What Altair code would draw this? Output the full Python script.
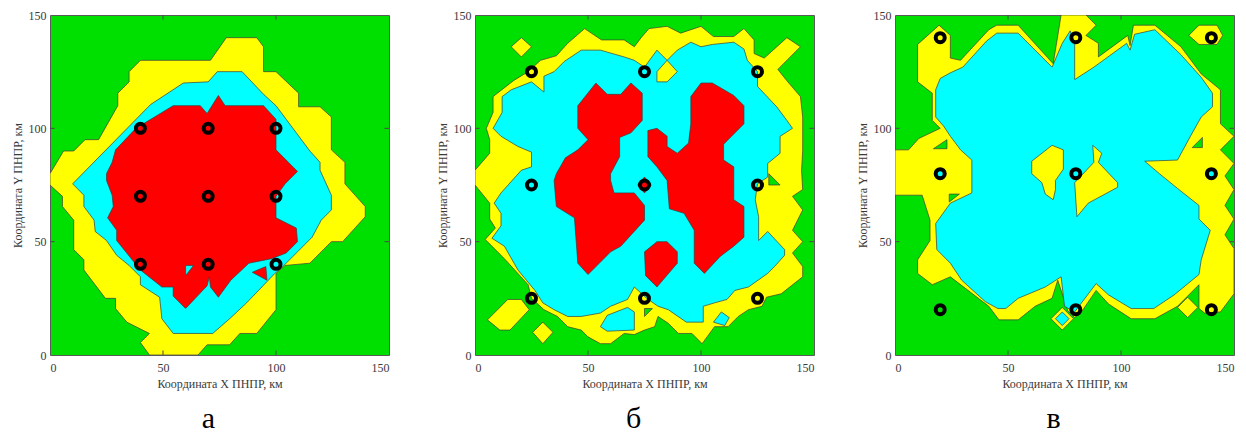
import altair as alt
import pandas as pd

GREEN = "#00e000"
YELLOW = "#ffff00"
CYAN = "#00ffff"
RED = "#ff0000"
EDGE = "#3c3c3c"
FONT = "Liberation Serif"

AXIS_TICKS = [0, 50, 100, 150]
INNER_TICKS = [50, 100]
X_TITLE = "Координата X ПНПР, км"
Y_TITLE = "Координата Y ПНПР, км"
PANEL_LETTERS = ["а", "б", "в"]

# sensor grid coordinates (km) of each panel
A_SENSOR_POS = [40, 70, 100]
B_SENSOR_POS = [25, 75, 125]
C_SENSOR_POS = [20, 80, 140]

# ---------- panel а : contour regions (km) ----------
A_YELLOW = [(71,130),(78,140),(91.5,140),(94.5,136),(94.5,125),(100,125),(110,115.5),(110,109.5),
            (119.5,109.5),(124.5,105),(124.5,90.5),(130.5,85),(130.5,75.5),(139.5,65.5),(139.5,61),
            (129.5,50),(124.5,50),(115,40.5),(104,39.5),(100,36),(100,20),(91.5,9.5),(84,9.5),
            (79.5,4.5),(69.5,4.5),(65.5,0),(44,0),(40,5.5),(44,9.5),(34,14.5),(29,20.5),(29,25),
            (24.5,25),(15,37.5),(15,42),(10.5,46.5),(10.5,59.5),(5.5,65.5),(5.5,70),(0,75),(0,80),
            (6,90),(10.5,90),(15.5,95),(21.5,95),(30,110),(30,115.5),(35,120.5),(35,125),(40,130)]
A_CYAN = [(70,120.5),(74,125),(85,125),(94.5,115),(100,110),(104.5,104),(115,90),(119.5,85),
          (119.5,81.5),(124.5,70.5),(124.5,64),(120,59.5),(116,52),(109,45),(103,39),(99.5,36),
          (87,23),(79.5,16),(72,9.5),(54.5,9.5),(49.5,16),(48.5,25.5),(40,31),(40,34.5),(35,39.5),
          (29.5,44),(25,50.5),(20,54.5),(19.5,59.5),(15,65.5),(15,70.5),(10,75.5),(44.5,110.5),(59,120)]
A_RED = [(54.5,110),(66.5,110),(69.5,106.5),(74.5,114.5),(77.5,110),(94.5,110),(100,104),(100,90.5),
         (109.5,81),(104,75.5),(100,70),(100,60.5),(109,56),(109.5,50),(104.5,45),(98,42.5),(88,40.5),
         (80,33),(74.5,25.5),(71,30),(70.5,34.5),(69.5,30.5),(60,20.5),(54.5,26),(54.5,30),(49.5,30),
         (40,37.5),(29.5,50.5),(29.5,55),(25.5,60.5),(28,65.5),(27.5,70.5),(25,77),(25,80),(27.5,85),
         (29,90.5),(38,100)]
A_CYAN_HOLE = [(60,35),(60,39.5),(63.5,39.5)]
A_RED_ISLAND = [(89.5,36.5),(95.5,39),(96,33)]

# ---------- panel б ----------
B_YELLOW = [(0,81.5),(6.5,89),(6.5,95),(5,100),(8,107),(8,114),(17,121),(23.5,125),(29,130),(36,132),
            (41,137.5),(48.5,144),(53,141),(56,139),(66,139),(70.5,136),(73.5,140),(77,144),(85,145),
            (91,142),(100,145),(105.5,140.5),(114.5,140.5),(119,144),(123.5,139),(123.5,133),(128,131),
            (138,140),(144,136),(134,126),(138,121),(144,114),(145,105),(145,90),(144.5,81.5),(145,73),
            (140.5,70),(145,64),(140.5,55),(145,50),(140.5,45),(145,39),(145,34.5),(135.5,27),(129,25.5),
            (127,21.5),(121,20),(116.5,17),(112,12.5),(106,12.5),(100.5,5),(96,9.5),(90,9.5),(85.5,14),
            (81,17),(79.5,12.5),(75,11),(70.5,9),(66,9.5),(60,5),(55.5,5),(50,8),(47,11),(41,12.5),
            (36.5,17),(30.5,20),(25,25),(23.5,31),(13,42.5),(7,48.5),(4.5,51),(9,56),(6.5,60),(6.5,67),(0,75)]
B_YELLOW_ISLE_1 = [(16,136),(20.5,140),(25,136),(20.5,131.5)]
B_YELLOW_ISLE_2 = [(5.5,15.5),(14.5,24.5),(20.5,24.5),(24,20),(15.5,11),(11,11)]
B_YELLOW_ISLE_3 = [(25.5,10),(30,14.5),(34.5,10),(30,5)]
B_GREEN_HOLE_1 = [(130,80),(135,75),(130,75)]
B_GREEN_HOLE_2 = [(75,20.5),(78.5,20.5),(75,17)]
B_CYAN = [(8,100),(12,107),(12,114),(16,117),(25,120.5),(30.5,116),(30.5,123),(35,125),(39.5,129.5),
          (47,134.5),(55.5,134.5),(66,131.5),(70.5,130),(75,127),(80.5,134.5),(85,130),(89.5,134.5),
          (95.5,138),(100,136),(105,137),(114.5,138),(119,135),(120.5,130),(125,125),(125,118.5),
          (133.5,109.5),(138,103.5),(140.5,100),(135,96.5),(135,89),(129.5,84.5),(129.5,78.5),(125,75.5),
          (124,68.5),(125.5,61),(125.5,50.5),(129.5,54.5),(137,46.5),(137,44),(132.5,39),(129.5,36),
          (121,30),(115,28.5),(111.5,24.5),(106,23),(101,21.5),(101,14.5),(93.5,14.5),(85.5,20),(81,21.5),
          (76,25),(70.5,30),(67.5,24.5),(60,21.5),(55.5,18.5),(47,17),(41,17),(35,20),(30,23),(26.5,28.5),
          (19,37.5),(13,48),(7.5,51.5),(11.5,57),(11.5,62.5),(8.5,67),(11.5,71.5),(20.5,81.5),(25,83),
          (25,89.5),(19,92),(11.5,96.5)]
B_CYAN_ISLE_1 = [(55.5,12.5),(58.5,17.5),(67.5,21),(70.5,19),(70.5,11),(58.5,10.5)]
B_CYAN_ISLE_2 = [(105.5,14.5),(109,19),(112.5,16.5),(110.5,13)]
B_YELLOW_IN_CYAN = [(80.5,125),(85,130),(89.5,125),(85,120.5),(80.5,120.5)]
B_RED_LEFT = [(45.5,110),(53.5,120),(58.5,115),(64.5,115),(69,120),(74,115.5),(74,103.5),(69,98),(64,96),
              (64,87.5),(60,80),(60,77),(61.5,71.5),(70.5,71.5),(75,66),(75,59.5),(64.5,48),(60,45.5),
              (50,35.5),(45.5,40.5),(44,60.5),(36,65.5),(35,77),(36,80),(40,87),(45.5,90.5),(50,95),(45.5,100)]
B_RED_RIGHT = [(100,120),(105,120),(114.5,114.5),(119,110),(119,102),(110,93),(110,86),(114.5,83),
               (114.5,68.5),(119,65.5),(119,52),(114.5,48),(108.5,43.5),(101.5,36),(97,40.5),(97,55),
               (92.5,62.5),(86,64.5),(85,77),(80.5,83),(76.5,87.5),(76.5,99),(80.5,100),(85,96.5),(85,92),
               (89.5,89),(94.5,93.5),(95.5,102),(95.5,114)]
B_RED_MID = [(75,45.5),(80.5,50),(85,50),(89.5,45.5),(89.5,40.5),(80.5,30),(75.5,35)]
B_RED_DOT = [(72,75),(75,78.5),(78,75),(75,71.5)]

# ---------- panel в ----------
C_YELLOW = [(0,90.5),(6,90.5),(10.5,95.5),(20,100),(16.5,103.5),(16.5,115.5),(10,120.5),(10,137),
            (19.5,145.5),(24.5,141),(24.5,131),(29,130),(41.5,143.5),(45,145.5),(54.5,145.5),(70,128.5),
            (73.5,150),(84.5,150),(89,145.5),(84.5,141),(90,137.5),(90,131.5),(103,141),(104,136.5),
            (105.5,145.5),(115,145.5),(126.5,136),(135.5,124),(144,117),(144,102),(150,96.5),(144,90.5),
            (150,84.5),(146,79),(150,73),(146,66),(150,60),(146,53),(150,47),(150,27),(144,19),(137,18.5),
            (134.5,20.5),(134.5,31),(125,21.5),(115,16),(104.5,16),(94.5,22.5),(89,28.5),(82.5,19),
            (79.5,16.5),(76.5,19.5),(72,33),(69.5,25),(62,21.5),(54.5,15.5),(46,15.5),(41.5,21.5),
            (24.5,34.5),(16.5,31),(10,36),(10,42),(15.5,50.5),(15.5,59.5),(12,70.5),(0,70.5)]
C_YELLOW_TR = [(130,141),(134.5,145.5),(142.5,145.5),(145,141),(142.5,137),(134.5,137)]
C_YELLOW_D1 = [(69,16),(74,21),(79,16),(74,11)]
C_YELLOW_D2 = [(125,21),(129.5,25.5),(134,21),(129.5,16.5)]
C_GREEN_HOLE_1 = [(131.5,91.5),(136,96),(136,91.5)]
C_GREEN_HOLE_2 = [(17,91),(23,95),(23,91)]
C_GREEN_HOLE_3 = [(24,71),(28.5,71),(24,67.5)]
C_CYAN = [(30,127),(40.5,138.5),(45,142),(54.5,142),(69.5,127),(74,137.5),(77.5,143),(79.5,137.5),
          (79.5,121.5),(88,127),(102.5,137.5),(104,134.5),(106,141.5),(115,143.5),(126.5,132.5),
          (135.5,122.5),(140.5,115.5),(140.5,109.5),(135.5,105),(131,97),(125,86),(110.5,85.5),(117,80),
          (125,73.5),(134.5,66),(134.5,60),(139.5,55),(135.5,42),(134.5,35.5),(123.5,26.5),(114.5,20.5),
          (104.5,20.5),(94.5,26.5),(89,31.5),(79.5,19),(75,21.5),(73.5,34.5),(66.5,30),(54.5,25),(49,20.5),
          (45.5,20.5),(40,23.5),(29.5,33),(24.5,40.5),(18.5,46.5),(18,58),(24.5,67),(34,71.5),(34,86),
          (29,90.5),(24.5,96.5),(21.5,101),(18,105),(18,117),(20,122),(24.5,124.5)]
C_CYAN_D1 = [(71,16),(74,19),(77,16),(74,13)]
C_CYAN_D2 = [(17.5,80),(20,82.5),(22.5,80),(20,77.5)]
C_CYAN_D3 = [(137.5,80),(140,82.5),(142.5,80),(140,77.5)]
C_YELLOW_IN_1 = [(60.5,85.5),(69.5,92.5),(74.5,90.5),(74.5,82),(71,77),(71,73),(70,68.5),(66.5,71),(65,76),(60.5,80)]
C_YELLOW_IN_2 = [(79.5,76),(88,85),(87.5,92.5),(91.5,89),(90,85),(98.5,76),(98.5,74),(85.5,67),(80.5,61)]

# (draw order, colour, outline)
PANEL_A = [(0, YELLOW, A_YELLOW), (1, CYAN, A_CYAN), (2, RED, A_RED),
           (3, CYAN, A_CYAN_HOLE), (3, RED, A_RED_ISLAND)]
PANEL_B = [(0, YELLOW, B_YELLOW), (0, YELLOW, B_YELLOW_ISLE_1), (0, YELLOW, B_YELLOW_ISLE_2),
           (0, YELLOW, B_YELLOW_ISLE_3), (1, GREEN, B_GREEN_HOLE_1), (1, GREEN, B_GREEN_HOLE_2),
           (2, CYAN, B_CYAN), (2, CYAN, B_CYAN_ISLE_1), (2, CYAN, B_CYAN_ISLE_2),
           (3, YELLOW, B_YELLOW_IN_CYAN), (4, RED, B_RED_LEFT), (4, RED, B_RED_RIGHT),
           (4, RED, B_RED_MID), (4, RED, B_RED_DOT)]
PANEL_C = [(0, YELLOW, C_YELLOW), (0, YELLOW, C_YELLOW_TR), (0, YELLOW, C_YELLOW_D1),
           (0, YELLOW, C_YELLOW_D2), (1, GREEN, C_GREEN_HOLE_1), (1, GREEN, C_GREEN_HOLE_2),
           (1, GREEN, C_GREEN_HOLE_3), (2, CYAN, C_CYAN), (2, CYAN, C_CYAN_D1), (2, CYAN, C_CYAN_D2),
           (2, CYAN, C_CYAN_D3), (3, YELLOW, C_YELLOW_IN_1), (3, YELLOW, C_YELLOW_IN_2)]

PLOT_W = 339
PLOT_H = 340
TICK_LEN_KM = 2.0


def panel(shapes, sensor_pos, letter):
    rows = []
    for pid, (depth, colour, pts) in enumerate(shapes):
        ring = list(pts) + [pts[0]]
        for k, (x, y) in enumerate(ring):
            rows.append({"pid": pid, "depth": depth, "colour": colour, "k": k, "x": x, "y": y})
    poly = pd.DataFrame(rows)

    xs = alt.Scale(domain=[0, 150], nice=False, zero=False)
    ys = alt.Scale(domain=[0, 150], nice=False, zero=False)
    xenc = alt.X("x:Q", scale=xs, axis=alt.Axis(values=AXIS_TICKS, title=X_TITLE, labelFlush=True))
    yenc = alt.Y("y:Q", scale=ys, axis=alt.Axis(values=AXIS_TICKS, title=Y_TITLE, labelFlush=False))

    layers = []
    for d in sorted(poly["depth"].unique()):
        sub = poly[poly["depth"] == d]
        layers.append(
            alt.Chart(sub).mark_line(stroke=EDGE, strokeWidth=0.7, clip=True).encode(
                x=xenc, y=yenc,
                fill=alt.Fill("colour:N", scale=None),
                detail="pid:N",
                order="k:Q",
            )
        )

    # small inward tick marks on all four sides of the box
    lo, hi = AXIS_TICKS[0], AXIS_TICKS[-1]
    trows = []
    for v in INNER_TICKS:
        trows += [
            {"x": v, "x2": v, "y": lo, "y2": lo + TICK_LEN_KM},
            {"x": v, "x2": v, "y": hi, "y2": hi - TICK_LEN_KM},
            {"x": lo, "x2": lo + TICK_LEN_KM, "y": v, "y2": v},
            {"x": hi, "x2": hi - TICK_LEN_KM, "y": v, "y2": v},
        ]
    layers.append(
        alt.Chart(pd.DataFrame(trows)).mark_rule(color="#4a4a4a", strokeWidth=1).encode(
            x=xenc, x2="x2:Q", y=yenc, y2="y2:Q"
        )
    )

    sensors = pd.DataFrame([{"x": sx, "y": sy} for sx in sensor_pos for sy in sensor_pos])
    layers.append(
        alt.Chart(sensors).mark_point(shape="circle", filled=False, stroke="black",
                                      strokeWidth=4, size=81, opacity=1).encode(x=xenc, y=yenc)
    )
    return alt.layer(*layers).properties(
        width=PLOT_W, height=PLOT_H,
        title=alt.TitleParams(text=letter, orient="bottom", anchor="middle", frame="group",
                              offset=15, dx=-11),
    )


chart = alt.hconcat(
    alt.hconcat(
        panel(PANEL_A, A_SENSOR_POS, PANEL_LETTERS[0]),
        panel(PANEL_B, B_SENSOR_POS, PANEL_LETTERS[1]),
        spacing=45,
    ),
    panel(PANEL_C, C_SENSOR_POS, PANEL_LETTERS[2]),
    spacing=40,
).properties(
    padding={"left": 2, "top": 0, "right": 0, "bottom": -2}
).configure_view(
    fill=GREEN, stroke="#5a5a5a", strokeWidth=1
).configure_axis(
    labelFont=FONT, titleFont=FONT, labelFontSize=12, titleFontSize=12,
    titleFontWeight="normal", labelColor="#3a3a3a", titleColor="#3a3a3a",
    grid=False, domain=False, ticks=False,
).configure_axisX(
    labelPadding=7, titlePadding=5
).configure_axisY(
    labelPadding=4, titlePadding=4
).configure_title(
    font=FONT, fontSize=30, fontWeight="normal", color="black"
)

chart.save("out.html", embed_options={"renderer": "svg", "actions": False})
